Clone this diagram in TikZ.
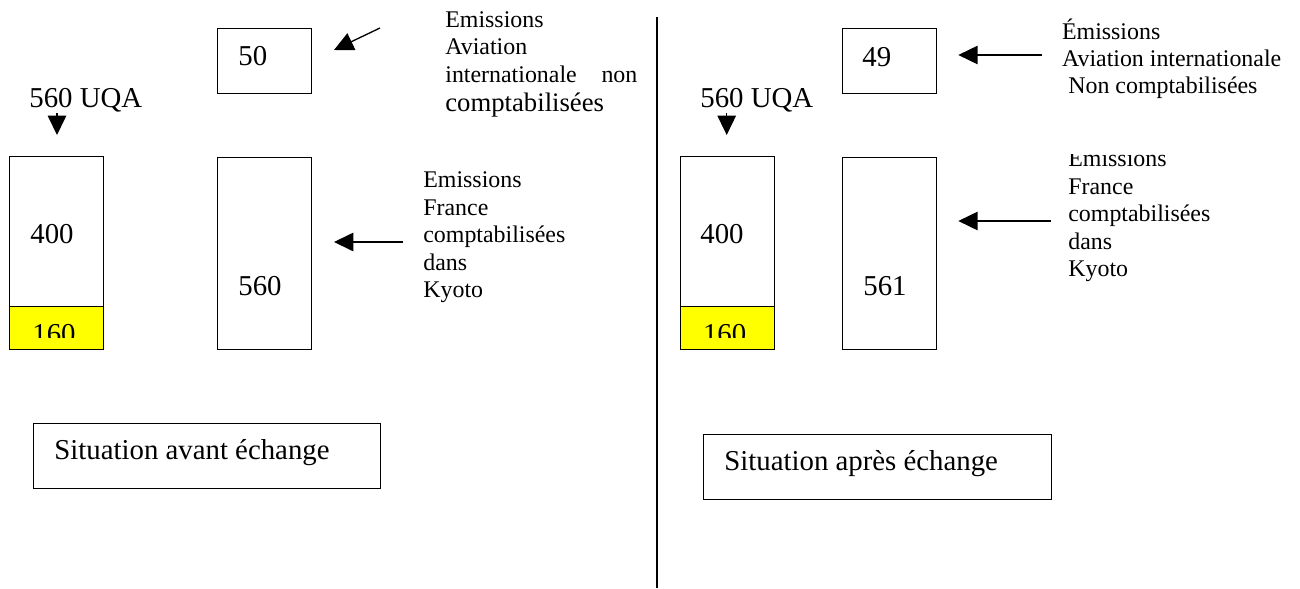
\documentclass[tikz,border=0pt]{standalone}
\usepackage{fontspec}
\setmainfont{Liberation Serif}
\usetikzlibrary{arrows.meta}

\definecolor{Quota}{HTML}{FFFF00}

\tikzset{
  bigtxt/.style={font=\fontsize{16.4}{19}\selectfont, inner sep=0pt, anchor=base west},
  smalltxt/.style={font=\fontsize{13.6}{15.6}\selectfont, inner sep=0pt, anchor=base west},
  bar/.style={draw, line width=0.75pt, inner sep=0pt, anchor=north west, minimum width=1.88cm},
  fleche/.style={line width=0.75pt, -{Triangle[length=11pt,width=10.5pt]}}
}

\begin{document}
\begin{tikzpicture}[x=0.02cm, y=-0.02cm]

 \useasboundingbox (0,0) rectangle (1300,588);

 %%%%%%%%%% Points pour les fleches %%%%%%%%%%
 \coordinate (0) at (380,28);
 \coordinate (1) at (334,50);
 \coordinate (2) at (403,242);
 \coordinate (3) at (334,242);
 \coordinate (4) at (57,113);
 \coordinate (5) at (57,135);
 \coordinate (6) at (1041.7,55);
 \coordinate (7) at (958.3,55);
 \coordinate (8) at (1050.7,221);
 \coordinate (9) at (958.3,221);
 \coordinate (10) at (726.7,113);
 \coordinate (11) at (726.7,135);
 \coordinate (12) at (657,17);
 \coordinate (13) at (657,588);

 %%%%%%%%%% Separation %%%%%%%%%%
 \draw [line width=1pt] (12) -- (13) ;

 %%%%%%%%%%%%%%%% Situation avant %%%%%%%%%%%%%%%%%%%
 \node [bar, minimum height=1.3cm] (aviav) at (217,28) {};
 \node [bar, minimum height=3.0cm] (uqaav) at (9,156) {};
 \node [bar, minimum height=0.86cm, fill=Quota] (quotaav) at (9,306) {};
 \node [bar, minimum height=3.84cm] (franceav) at (217,157) {};
 \node [bar, minimum width=6.94cm, minimum height=1.3cm] (titreav) at (33,423) {};

 \node [bigtxt] (nav) at (238,66) {50};
 \node [bigtxt] (uav) at (29,108) {560 UQA};
 \node [bigtxt] (qav) at (30,243) {400};
 \begin{scope}
  \clip (9,306) rectangle (103,337);
  \node [bigtxt] (rav) at (32,343) {160};
 \end{scope}
 \node [bigtxt] (fav) at (238,295) {560};
 \node [bigtxt] (sav) at (54,459) {Situation avant échange};

 \node [smalltxt] (a1) at (445,27.3) {Emissions};
 \node [smalltxt] (a2) at (445,55) {Aviation};
 \node [smalltxt] (a3) at (445,82.7) {\hbox to 3.84cm{internationale\hfill non}};
 \node [smalltxt, font=\fontsize{15.2}{17}\selectfont] (a4) at (445,111.7) {comptabilisées};
 \foreach \mot [count=\k from 0] in {Emissions,France,comptabilisées,dans,Kyoto}
 {
   \node [smalltxt] (f\k) at (423,{187.5+27.5*\k}) {\mot};
 }

 \draw [fleche] (0) -- (1) ;
 \draw [fleche] (2) -- (3) ;
 \draw [fleche] (4) -- (5) ;

 %%%%%%%%%%%%%%%% Situation apres %%%%%%%%%%%%%%%%%%%
 \node [bar, minimum height=1.3cm] (aviap) at (842,28) {};
 \node [bar, minimum height=3.0cm] (uqaap) at (680,156) {};
 \node [bar, minimum height=0.86cm, fill=Quota] (quotaap) at (680,306) {};
 \node [bar, minimum height=3.84cm] (franceap) at (842,157) {};
 \node [bar, minimum width=6.96cm, minimum height=1.3cm] (titreap) at (703,434) {};

 \node [bigtxt] (nap) at (862,66.7) {49};
 \node [bigtxt] (uap) at (700,108) {560 UQA};
 \node [bigtxt] (qap) at (700,243) {400};
 \begin{scope}
  \clip (680,306) rectangle (773,337);
  \node [bigtxt] (rap) at (702.7,343) {160};
 \end{scope}
 \node [bigtxt] (fap) at (863,295) {561};
 \node [bigtxt] (sap) at (724,470) {Situation après échange};

 \node [smalltxt] (b1) at (1061.7,40) {Émissions};
 \node [smalltxt] (b2) at (1061.7,66.7) {Aviation internationale};
 \node [smalltxt] (b3) at (1068,93.3) {Non comptabilisées};
 \begin{scope}
  \clip (1050,154.5) rectangle (1300,300);
  \foreach \mot [count=\k from 0] in {Emissions,France,comptabilisées,dans,Kyoto}
  {
    \node [smalltxt] (g\k) at (1068,{166.7+27.5*\k}) {\mot};
  }
 \end{scope}

 \draw [fleche] (6) -- (7) ;
 \draw [fleche] (8) -- (9) ;
 \draw [fleche] (10) -- (11) ;

\end{tikzpicture}
\end{document}
